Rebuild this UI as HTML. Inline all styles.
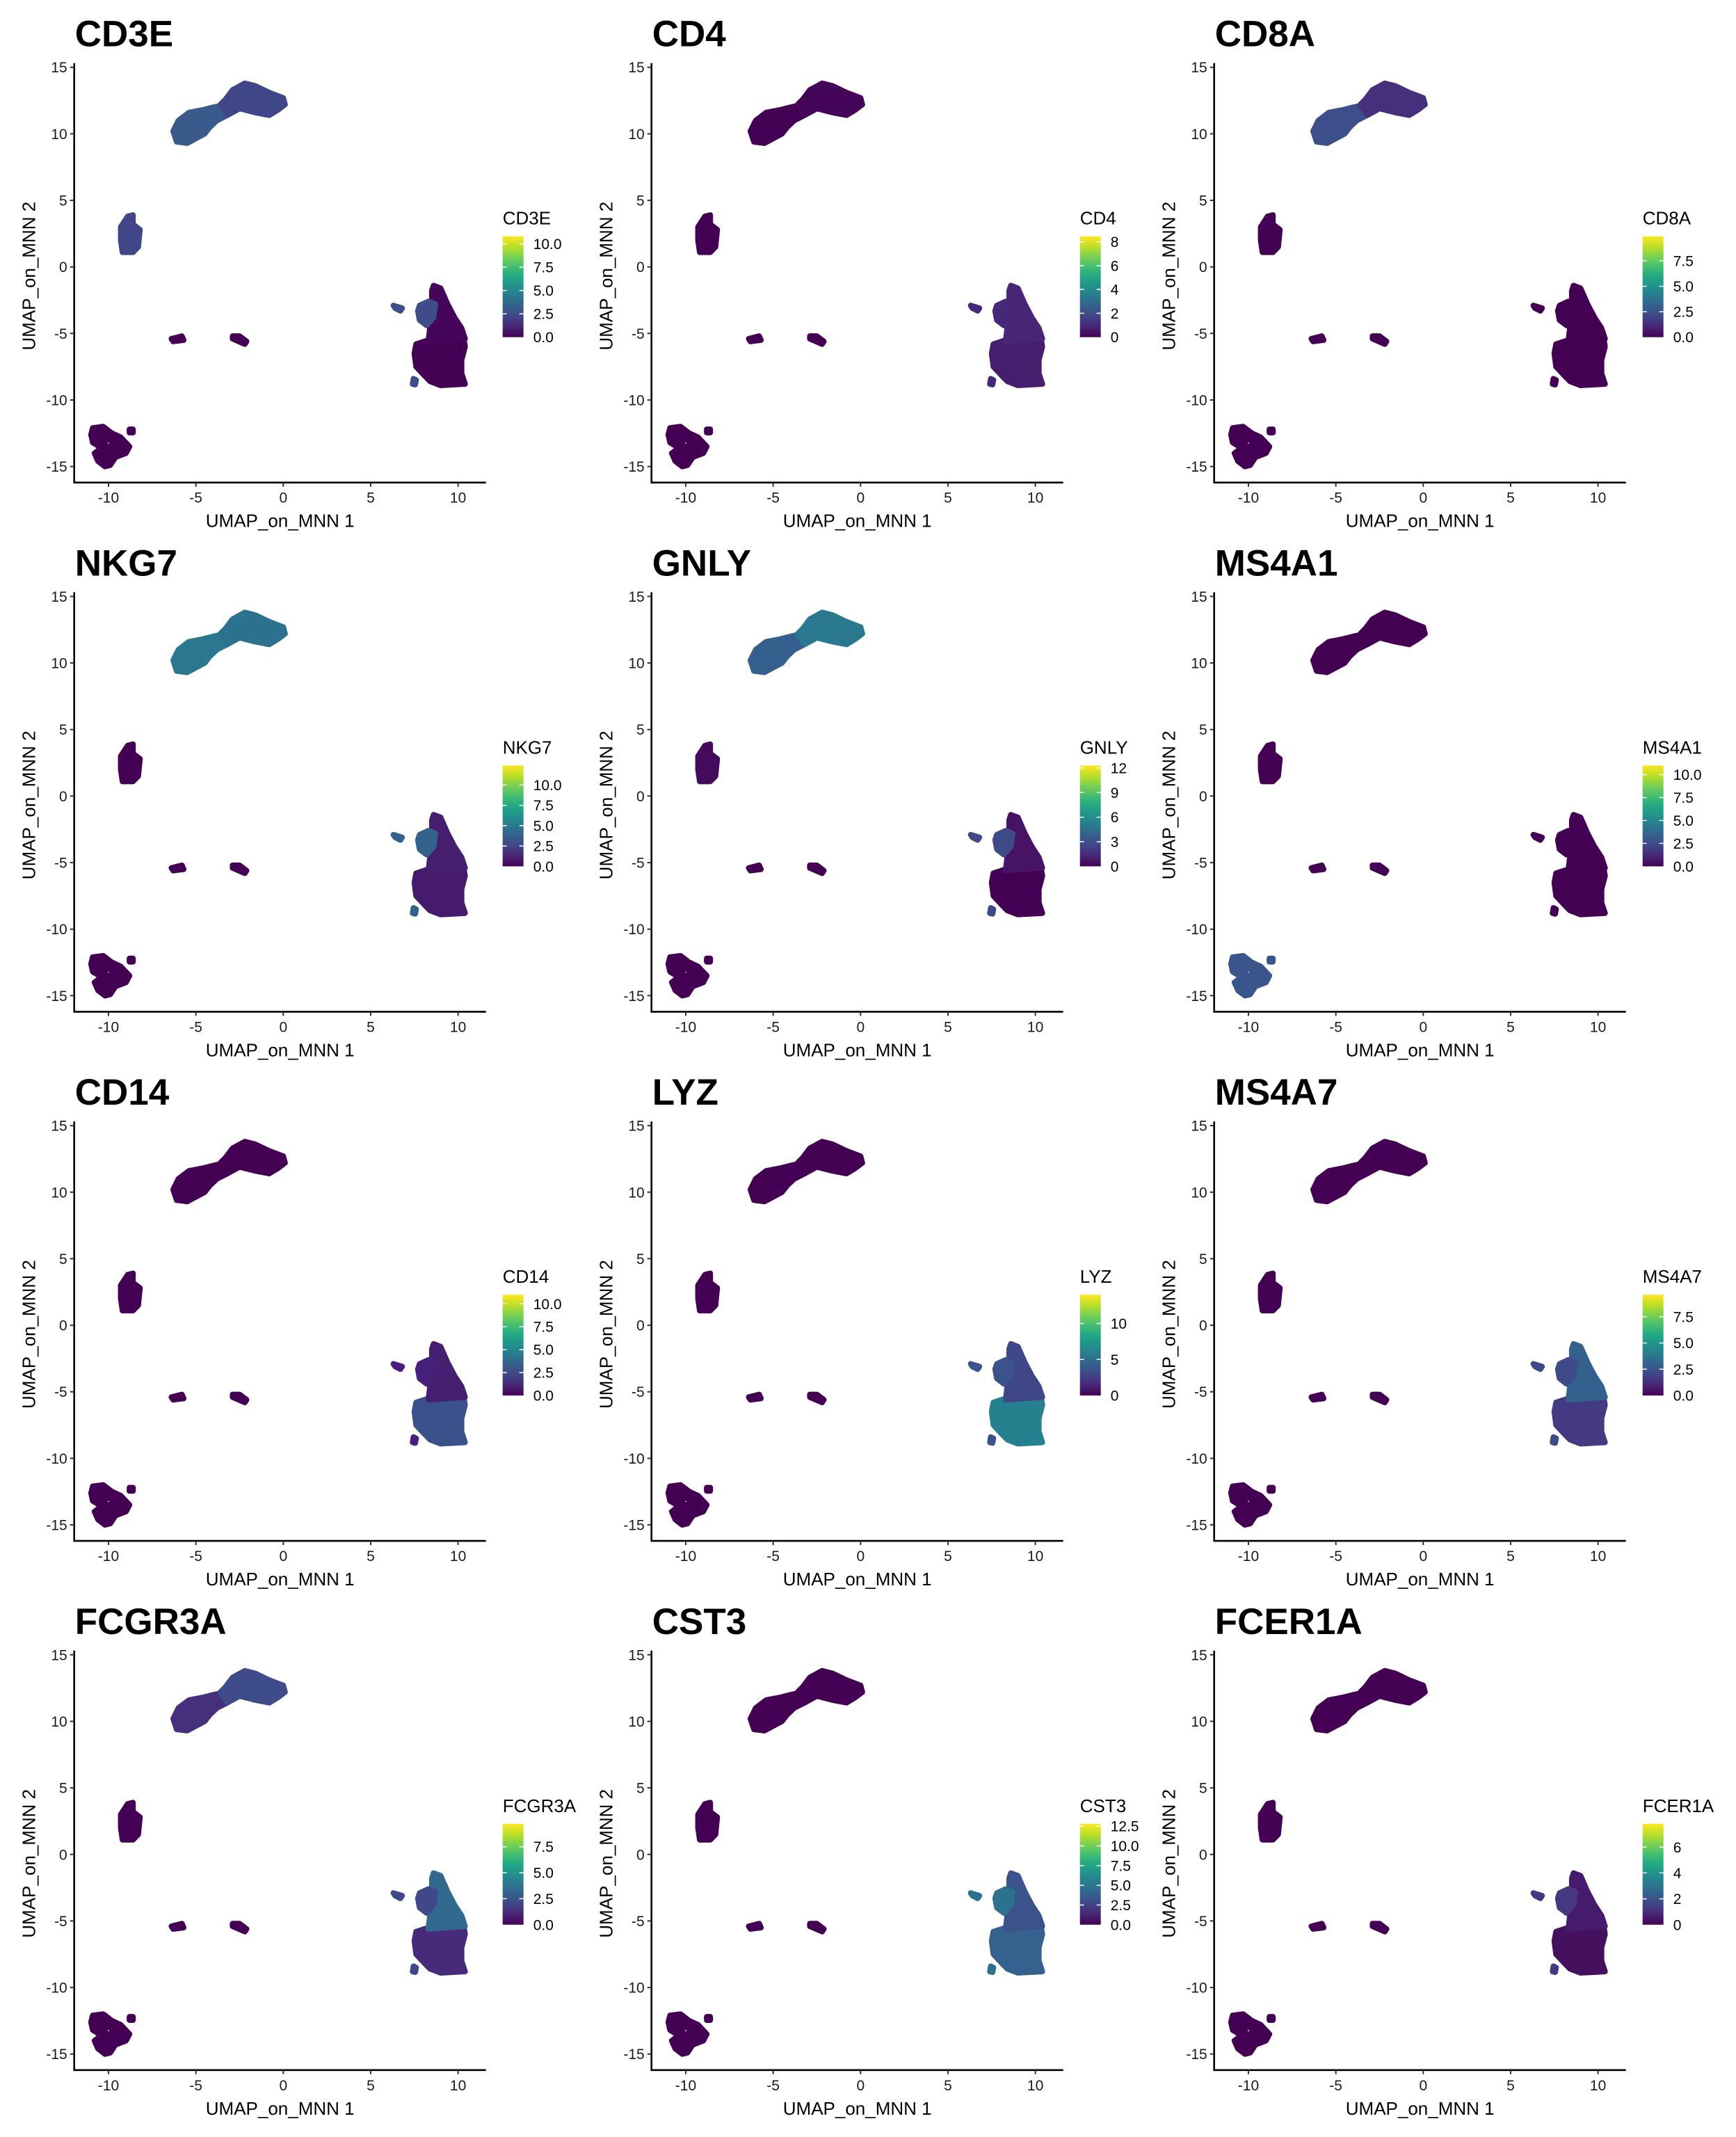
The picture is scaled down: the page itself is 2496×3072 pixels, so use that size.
<!DOCTYPE html>
<html><head><meta charset="utf-8"><style>
html,body{margin:0;padding:0;background:#fff}
svg{display:block}
text{font-family:"Liberation Sans",Arial,sans-serif;fill:#000}
.t{font-size:53px;font-weight:bold}
.k{font-size:21px;fill:#1a1a1a}
.a{font-size:26px}
.l{font-size:21px}
.lt{font-size:26px}
</style></head><body>
<svg width="2496" height="3072" viewBox="0 0 2496 3072" xmlns="http://www.w3.org/2000/svg">
<defs>
<linearGradient id="v" x1="0" y1="1" x2="0" y2="0">
<stop offset="0" stop-color="#440154"/><stop offset="0.1" stop-color="#482475"/><stop offset="0.2" stop-color="#414487"/><stop offset="0.3" stop-color="#355f8d"/><stop offset="0.4" stop-color="#2a788e"/><stop offset="0.5" stop-color="#21918c"/><stop offset="0.6" stop-color="#22a884"/><stop offset="0.7" stop-color="#44bf70"/><stop offset="0.8" stop-color="#7ad151"/><stop offset="0.9" stop-color="#bddf26"/><stop offset="1" stop-color="#fde725"/>
</linearGradient>
<g id="axl" fill="none" stroke="#000">
<path d="M0,-6V597H592" stroke-width="2.6"/>
<path d="M-6,0H0M-6,95.65H0M-6,191.3H0M-6,287H0M-6,382.6H0M-6,478.3H0M-6,573.9H0M49.3,597V603M174.95,597V603M300.6,597V603M426.25,597V603M551.9,597V603" stroke-width="2" stroke="#333"/>
</g>
<g id="bar"><rect x="616" y="243" width="30" height="145" fill="url(#v)"/></g>
<g>
<path id="c1" vector-effect="non-scaling-stroke" stroke-width="8" stroke-linejoin="round" d="M-6.1,9.4L-5.5,9.3L-4.5,10L-4.2,10.5L-3.8,11L-3.2,11.4L-3,11.9L-3.3,12.2L-4,12L-4.6,11.8L-5.4,11.6L-6,11L-6.3,10.2Z"/>
<path id="c2" vector-effect="non-scaling-stroke" stroke-width="8" stroke-linejoin="round" d="M-3.2,11.4L-2.5,11.9L-1.6,11.6L-0.8,11.4L-0.3,11.8L0.1,12.2L0,12.7L-0.8,13.1L-1.6,13.6L-2.2,13.8L-2.9,13.3L-3.3,12.6L-3.6,12.2Z"/>
<path id="c3" vector-effect="non-scaling-stroke" stroke-width="8" stroke-linejoin="round" d="M-9.2,1.1L-8.6,1.1L-8.3,1.5L-8.2,2.8L-8.6,3.2L-8.6,3.9L-8.9,3.8L-9.3,3L-9.3,2Z"/>
<path id="c4" vector-effect="non-scaling-stroke" stroke-width="8" stroke-linejoin="round" d="M-6.4,-5.4L-5.8,-5.2L-5.7,-5.5L-6.3,-5.6ZM-2.9,-5.2L-2.5,-5.2L-2.1,-5.6L-2.2,-5.8L-2.9,-5.4Z"/>
<path id="c5" vector-effect="non-scaling-stroke" stroke-width="8" stroke-linejoin="round" d="M7.6,-5.8L8.3,-5.5L10.3,-5.2L10.4,-6L10.2,-7L10.2,-8L10.4,-8.8L9,-8.9L8.4,-8.6L8.1,-8.2L7.6,-7.5L7.5,-6.5Z"/>
<path id="c6" vector-effect="non-scaling-stroke" stroke-width="8" stroke-linejoin="round" d="M8.6,-1.4L9,-1.6L9.4,-2.8L9.8,-3.8L10.2,-4.6L10.4,-5.4L8.3,-5.6L8.4,-4.5L8.6,-3.5L8.5,-2.5L8.5,-1.8Z"/>
<path id="c7" vector-effect="non-scaling-stroke" stroke-width="8" stroke-linejoin="round" d="M7.8,-2.9L8.3,-2.6L8.7,-2.8L8.6,-3.8L8.2,-4.4L7.8,-4L7.7,-3.3ZM6.3,-2.9L6.8,-3.1L6.7,-3.3L6.4,-3.1ZM7.45,-8.4L7.6,-8.5L7.55,-8.85L7.4,-8.8Z"/>
<path id="c8" vector-effect="non-scaling-stroke" stroke-width="8" stroke-linejoin="round" fill-rule="evenodd" d="M-10.9,-12.1L-10.3,-12L-9.8,-12.5L-9.3,-12.8L-8.8,-13.5L-9,-14L-9.6,-14.3L-9.9,-14.9L-10.2,-15L-10.6,-14.6L-10.8,-14L-10.4,-13.6L-10.9,-13.2L-11,-12.6ZM-10.2,-13L-9.75,-13L-9.85,-13.5L-10.2,-13.45ZM-8.8,-12.2L-8.6,-12.2L-8.6,-12.45L-8.8,-12.45Z"/>
</g>
</defs>

<!-- CD3E -->
<g transform="translate(106.7,96.7)">
<text class="t" x="1" y="-30">CD3E</text>
<g transform="translate(300.6,287) scale(25.13,-19.13)">
<use href="#c1" fill="#3b5a8c" stroke="#3b5a8c"/><use href="#c2" fill="#3f4788" stroke="#3f4788"/><use href="#c3" fill="#404688" stroke="#404688"/><use href="#c4" fill="#440154" stroke="#440154"/><use href="#c5" fill="#440154" stroke="#440154"/><use href="#c6" fill="#45065a" stroke="#45065a"/><use href="#c7" fill="#3e4c8a" stroke="#3e4c8a"/><use href="#c8" fill="#440154" stroke="#440154"/>
</g>
<use href="#axl"/>
<text class="k" text-anchor="end" x="-10" y="7.5">15</text><text class="k" text-anchor="end" x="-10" y="103.2">10</text><text class="k" text-anchor="end" x="-10" y="198.8">5</text><text class="k" text-anchor="end" x="-10" y="294.5">0</text><text class="k" text-anchor="end" x="-10" y="390.1">-5</text><text class="k" text-anchor="end" x="-10" y="485.8">-10</text><text class="k" text-anchor="end" x="-10" y="581.4">-15</text>
<text class="k" text-anchor="middle" x="49.3" y="626">-10</text><text class="k" text-anchor="middle" x="174.95" y="626">-5</text><text class="k" text-anchor="middle" x="300.6" y="626">0</text><text class="k" text-anchor="middle" x="426.25" y="626">5</text><text class="k" text-anchor="middle" x="551.9" y="626">10</text>
<text class="a" x="296" y="661" text-anchor="middle">UMAP_on_MNN 1</text><text class="a" transform="translate(-56,300) rotate(-90)" text-anchor="middle">UMAP_on_MNN 2</text>
<text class="lt" x="616" y="226">CD3E</text><use href="#bar"/>
<path d="M616,253.7h6M640,253.7h6M616,287.3h6M640,287.3h6M616,320.9h6M640,320.9h6M616,354.4h6M640,354.4h6" stroke="#fff" stroke-width="1.5"/>
<text class="l" x="660" y="261.2">10.0</text><text class="l" x="660" y="294.8">7.5</text><text class="l" x="660" y="328.4">5.0</text><text class="l" x="660" y="361.9">2.5</text><text class="l" x="660" y="395.5">0.0</text>
</g>

<!-- CD4 -->
<g transform="translate(936.7,96.7)">
<text class="t" x="1" y="-30">CD4</text>
<g transform="translate(300.6,287) scale(25.13,-19.13)">
<use href="#c1" fill="#440154" stroke="#440154"/><use href="#c2" fill="#450559" stroke="#450559"/><use href="#c3" fill="#440154" stroke="#440154"/><use href="#c4" fill="#440154" stroke="#440154"/><use href="#c5" fill="#461e6e" stroke="#461e6e"/><use href="#c6" fill="#472675" stroke="#472675"/><use href="#c7" fill="#46287a" stroke="#46287a"/><use href="#c8" fill="#440154" stroke="#440154"/>
</g>
<use href="#axl"/>
<text class="k" text-anchor="end" x="-10" y="7.5">15</text><text class="k" text-anchor="end" x="-10" y="103.2">10</text><text class="k" text-anchor="end" x="-10" y="198.8">5</text><text class="k" text-anchor="end" x="-10" y="294.5">0</text><text class="k" text-anchor="end" x="-10" y="390.1">-5</text><text class="k" text-anchor="end" x="-10" y="485.8">-10</text><text class="k" text-anchor="end" x="-10" y="581.4">-15</text>
<text class="k" text-anchor="middle" x="49.3" y="626">-10</text><text class="k" text-anchor="middle" x="174.95" y="626">-5</text><text class="k" text-anchor="middle" x="300.6" y="626">0</text><text class="k" text-anchor="middle" x="426.25" y="626">5</text><text class="k" text-anchor="middle" x="551.9" y="626">10</text>
<text class="a" x="296" y="661" text-anchor="middle">UMAP_on_MNN 1</text><text class="a" transform="translate(-56,300) rotate(-90)" text-anchor="middle">UMAP_on_MNN 2</text>
<text class="lt" x="616" y="226">CD4</text><use href="#bar"/>
<path d="M616,250.9h6M640,250.9h6M616,285.2h6M640,285.2h6M616,319.4h6M640,319.4h6M616,353.7h6M640,353.7h6" stroke="#fff" stroke-width="1.5"/>
<text class="l" x="660" y="258.4">8</text><text class="l" x="660" y="292.7">6</text><text class="l" x="660" y="326.9">4</text><text class="l" x="660" y="361.2">2</text><text class="l" x="660" y="395.5">0</text>
</g>

<!-- CD8A -->
<g transform="translate(1745.7,96.7)">
<text class="t" x="1" y="-30">CD8A</text>
<g transform="translate(300.6,287) scale(25.13,-19.13)">
<use href="#c1" fill="#3c4f8a" stroke="#3c4f8a"/><use href="#c2" fill="#46307e" stroke="#46307e"/><use href="#c3" fill="#440154" stroke="#440154"/><use href="#c4" fill="#440154" stroke="#440154"/><use href="#c5" fill="#440154" stroke="#440154"/><use href="#c6" fill="#440154" stroke="#440154"/><use href="#c7" fill="#440154" stroke="#440154"/><use href="#c8" fill="#440154" stroke="#440154"/>
</g>
<use href="#axl"/>
<text class="k" text-anchor="end" x="-10" y="7.5">15</text><text class="k" text-anchor="end" x="-10" y="103.2">10</text><text class="k" text-anchor="end" x="-10" y="198.8">5</text><text class="k" text-anchor="end" x="-10" y="294.5">0</text><text class="k" text-anchor="end" x="-10" y="390.1">-5</text><text class="k" text-anchor="end" x="-10" y="485.8">-10</text><text class="k" text-anchor="end" x="-10" y="581.4">-15</text>
<text class="k" text-anchor="middle" x="49.3" y="626">-10</text><text class="k" text-anchor="middle" x="174.95" y="626">-5</text><text class="k" text-anchor="middle" x="300.6" y="626">0</text><text class="k" text-anchor="middle" x="426.25" y="626">5</text><text class="k" text-anchor="middle" x="551.9" y="626">10</text>
<text class="a" x="296" y="661" text-anchor="middle">UMAP_on_MNN 1</text><text class="a" transform="translate(-56,300) rotate(-90)" text-anchor="middle">UMAP_on_MNN 2</text>
<text class="lt" x="616" y="226">CD8A</text><use href="#bar"/>
<path d="M616,278.2h6M640,278.2h6M616,314.8h6M640,314.8h6M616,351.4h6M640,351.4h6" stroke="#fff" stroke-width="1.5"/>
<text class="l" x="660" y="285.7">7.5</text><text class="l" x="660" y="322.3">5.0</text><text class="l" x="660" y="358.9">2.5</text><text class="l" x="660" y="395.5">0.0</text>
</g>

<!-- NKG7 -->
<g transform="translate(106.7,857.4)">
<text class="t" x="1" y="-30">NKG7</text>
<g transform="translate(300.6,287) scale(25.13,-19.13)">
<use href="#c1" fill="#2a778e" stroke="#2a778e"/><use href="#c2" fill="#2c728e" stroke="#2c728e"/><use href="#c3" fill="#440154" stroke="#440154"/><use href="#c4" fill="#440154" stroke="#440154"/><use href="#c5" fill="#461a6c" stroke="#461a6c"/><use href="#c6" fill="#46206f" stroke="#46206f"/><use href="#c7" fill="#33638d" stroke="#33638d"/><use href="#c8" fill="#440154" stroke="#440154"/>
</g>
<use href="#axl"/>
<text class="k" text-anchor="end" x="-10" y="7.5">15</text><text class="k" text-anchor="end" x="-10" y="103.2">10</text><text class="k" text-anchor="end" x="-10" y="198.8">5</text><text class="k" text-anchor="end" x="-10" y="294.5">0</text><text class="k" text-anchor="end" x="-10" y="390.1">-5</text><text class="k" text-anchor="end" x="-10" y="485.8">-10</text><text class="k" text-anchor="end" x="-10" y="581.4">-15</text>
<text class="k" text-anchor="middle" x="49.3" y="626">-10</text><text class="k" text-anchor="middle" x="174.95" y="626">-5</text><text class="k" text-anchor="middle" x="300.6" y="626">0</text><text class="k" text-anchor="middle" x="426.25" y="626">5</text><text class="k" text-anchor="middle" x="551.9" y="626">10</text>
<text class="a" x="296" y="661" text-anchor="middle">UMAP_on_MNN 1</text><text class="a" transform="translate(-56,300) rotate(-90)" text-anchor="middle">UMAP_on_MNN 2</text>
<text class="lt" x="616" y="226">NKG7</text><use href="#bar"/>
<path d="M616,271.1h6M640,271.1h6M616,300.3h6M640,300.3h6M616,329.5h6M640,329.5h6M616,358.8h6M640,358.8h6" stroke="#fff" stroke-width="1.5"/>
<text class="l" x="660" y="278.6">10.0</text><text class="l" x="660" y="307.8">7.5</text><text class="l" x="660" y="337">5.0</text><text class="l" x="660" y="366.3">2.5</text><text class="l" x="660" y="395.5">0.0</text>
</g>

<!-- GNLY -->
<g transform="translate(936.7,857.4)">
<text class="t" x="1" y="-30">GNLY</text>
<g transform="translate(300.6,287) scale(25.13,-19.13)">
<use href="#c1" fill="#35608d" stroke="#35608d"/><use href="#c2" fill="#2a788e" stroke="#2a788e"/><use href="#c3" fill="#450a5c" stroke="#450a5c"/><use href="#c4" fill="#440154" stroke="#440154"/><use href="#c5" fill="#440154" stroke="#440154"/><use href="#c6" fill="#471365" stroke="#471365"/><use href="#c7" fill="#3e4a89" stroke="#3e4a89"/><use href="#c8" fill="#440154" stroke="#440154"/>
</g>
<use href="#axl"/>
<text class="k" text-anchor="end" x="-10" y="7.5">15</text><text class="k" text-anchor="end" x="-10" y="103.2">10</text><text class="k" text-anchor="end" x="-10" y="198.8">5</text><text class="k" text-anchor="end" x="-10" y="294.5">0</text><text class="k" text-anchor="end" x="-10" y="390.1">-5</text><text class="k" text-anchor="end" x="-10" y="485.8">-10</text><text class="k" text-anchor="end" x="-10" y="581.4">-15</text>
<text class="k" text-anchor="middle" x="49.3" y="626">-10</text><text class="k" text-anchor="middle" x="174.95" y="626">-5</text><text class="k" text-anchor="middle" x="300.6" y="626">0</text><text class="k" text-anchor="middle" x="426.25" y="626">5</text><text class="k" text-anchor="middle" x="551.9" y="626">10</text>
<text class="a" x="296" y="661" text-anchor="middle">UMAP_on_MNN 1</text><text class="a" transform="translate(-56,300) rotate(-90)" text-anchor="middle">UMAP_on_MNN 2</text>
<text class="lt" x="616" y="226">GNLY</text><use href="#bar"/>
<path d="M616,246.5h6M640,246.5h6M616,281.9h6M640,281.9h6M616,317.3h6M640,317.3h6M616,352.6h6M640,352.6h6" stroke="#fff" stroke-width="1.5"/>
<text class="l" x="660" y="254">12</text><text class="l" x="660" y="289.4">9</text><text class="l" x="660" y="324.8">6</text><text class="l" x="660" y="360.1">3</text><text class="l" x="660" y="395.5">0</text>
</g>

<!-- MS4A1 -->
<g transform="translate(1745.7,857.4)">
<text class="t" x="1" y="-30">MS4A1</text>
<g transform="translate(300.6,287) scale(25.13,-19.13)">
<use href="#c1" fill="#440154" stroke="#440154"/><use href="#c2" fill="#440154" stroke="#440154"/><use href="#c3" fill="#440154" stroke="#440154"/><use href="#c4" fill="#440154" stroke="#440154"/><use href="#c5" fill="#440154" stroke="#440154"/><use href="#c6" fill="#440154" stroke="#440154"/><use href="#c7" fill="#440154" stroke="#440154"/><use href="#c8" fill="#3a548c" stroke="#3a548c"/>
</g>
<use href="#axl"/>
<text class="k" text-anchor="end" x="-10" y="7.5">15</text><text class="k" text-anchor="end" x="-10" y="103.2">10</text><text class="k" text-anchor="end" x="-10" y="198.8">5</text><text class="k" text-anchor="end" x="-10" y="294.5">0</text><text class="k" text-anchor="end" x="-10" y="390.1">-5</text><text class="k" text-anchor="end" x="-10" y="485.8">-10</text><text class="k" text-anchor="end" x="-10" y="581.4">-15</text>
<text class="k" text-anchor="middle" x="49.3" y="626">-10</text><text class="k" text-anchor="middle" x="174.95" y="626">-5</text><text class="k" text-anchor="middle" x="300.6" y="626">0</text><text class="k" text-anchor="middle" x="426.25" y="626">5</text><text class="k" text-anchor="middle" x="551.9" y="626">10</text>
<text class="a" x="296" y="661" text-anchor="middle">UMAP_on_MNN 1</text><text class="a" transform="translate(-56,300) rotate(-90)" text-anchor="middle">UMAP_on_MNN 2</text>
<text class="lt" x="616" y="226">MS4A1</text><use href="#bar"/>
<path d="M616,256.2h6M640,256.2h6M616,289.1h6M640,289.1h6M616,322.1h6M640,322.1h6M616,355h6M640,355h6" stroke="#fff" stroke-width="1.5"/>
<text class="l" x="660" y="263.7">10.0</text><text class="l" x="660" y="296.6">7.5</text><text class="l" x="660" y="329.6">5.0</text><text class="l" x="660" y="362.5">2.5</text><text class="l" x="660" y="395.5">0.0</text>
</g>

<!-- CD14 -->
<g transform="translate(106.7,1618.1)">
<text class="t" x="1" y="-30">CD14</text>
<g transform="translate(300.6,287) scale(25.13,-19.13)">
<use href="#c1" fill="#440154" stroke="#440154"/><use href="#c2" fill="#440154" stroke="#440154"/><use href="#c3" fill="#440154" stroke="#440154"/><use href="#c4" fill="#440154" stroke="#440154"/><use href="#c5" fill="#3b518b" stroke="#3b518b"/><use href="#c6" fill="#462070" stroke="#462070"/><use href="#c7" fill="#46207a" stroke="#46207a"/><use href="#c8" fill="#440154" stroke="#440154"/>
</g>
<use href="#axl"/>
<text class="k" text-anchor="end" x="-10" y="7.5">15</text><text class="k" text-anchor="end" x="-10" y="103.2">10</text><text class="k" text-anchor="end" x="-10" y="198.8">5</text><text class="k" text-anchor="end" x="-10" y="294.5">0</text><text class="k" text-anchor="end" x="-10" y="390.1">-5</text><text class="k" text-anchor="end" x="-10" y="485.8">-10</text><text class="k" text-anchor="end" x="-10" y="581.4">-15</text>
<text class="k" text-anchor="middle" x="49.3" y="626">-10</text><text class="k" text-anchor="middle" x="174.95" y="626">-5</text><text class="k" text-anchor="middle" x="300.6" y="626">0</text><text class="k" text-anchor="middle" x="426.25" y="626">5</text><text class="k" text-anchor="middle" x="551.9" y="626">10</text>
<text class="a" x="296" y="661" text-anchor="middle">UMAP_on_MNN 1</text><text class="a" transform="translate(-56,300) rotate(-90)" text-anchor="middle">UMAP_on_MNN 2</text>
<text class="lt" x="616" y="226">CD14</text><use href="#bar"/>
<path d="M616,256.2h6M640,256.2h6M616,289.1h6M640,289.1h6M616,322.1h6M640,322.1h6M616,355h6M640,355h6" stroke="#fff" stroke-width="1.5"/>
<text class="l" x="660" y="263.7">10.0</text><text class="l" x="660" y="296.6">7.5</text><text class="l" x="660" y="329.6">5.0</text><text class="l" x="660" y="362.5">2.5</text><text class="l" x="660" y="395.5">0.0</text>
</g>

<!-- LYZ -->
<g transform="translate(936.7,1618.1)">
<text class="t" x="1" y="-30">LYZ</text>
<g transform="translate(300.6,287) scale(25.13,-19.13)">
<use href="#c1" fill="#440154" stroke="#440154"/><use href="#c2" fill="#440154" stroke="#440154"/><use href="#c3" fill="#440154" stroke="#440154"/><use href="#c4" fill="#440154" stroke="#440154"/><use href="#c5" fill="#26818e" stroke="#26818e"/><use href="#c6" fill="#3f4788" stroke="#3f4788"/><use href="#c7" fill="#3b528b" stroke="#3b528b"/><use href="#c8" fill="#440154" stroke="#440154"/>
</g>
<use href="#axl"/>
<text class="k" text-anchor="end" x="-10" y="7.5">15</text><text class="k" text-anchor="end" x="-10" y="103.2">10</text><text class="k" text-anchor="end" x="-10" y="198.8">5</text><text class="k" text-anchor="end" x="-10" y="294.5">0</text><text class="k" text-anchor="end" x="-10" y="390.1">-5</text><text class="k" text-anchor="end" x="-10" y="485.8">-10</text><text class="k" text-anchor="end" x="-10" y="581.4">-15</text>
<text class="k" text-anchor="middle" x="49.3" y="626">-10</text><text class="k" text-anchor="middle" x="174.95" y="626">-5</text><text class="k" text-anchor="middle" x="300.6" y="626">0</text><text class="k" text-anchor="middle" x="426.25" y="626">5</text><text class="k" text-anchor="middle" x="551.9" y="626">10</text>
<text class="a" x="296" y="661" text-anchor="middle">UMAP_on_MNN 1</text><text class="a" transform="translate(-56,300) rotate(-90)" text-anchor="middle">UMAP_on_MNN 2</text>
<text class="lt" x="616" y="226">LYZ</text><use href="#bar"/>
<path d="M616,284.4h6M640,284.4h6M616,336.2h6M640,336.2h6" stroke="#fff" stroke-width="1.5"/>
<text class="l" x="660" y="291.9">10</text><text class="l" x="660" y="343.7">5</text><text class="l" x="660" y="395.5">0</text>
</g>

<!-- MS4A7 -->
<g transform="translate(1745.7,1618.1)">
<text class="t" x="1" y="-30">MS4A7</text>
<g transform="translate(300.6,287) scale(25.13,-19.13)">
<use href="#c1" fill="#440154" stroke="#440154"/><use href="#c2" fill="#440154" stroke="#440154"/><use href="#c3" fill="#440154" stroke="#440154"/><use href="#c4" fill="#440154" stroke="#440154"/><use href="#c5" fill="#443a83" stroke="#443a83"/><use href="#c6" fill="#34608d" stroke="#34608d"/><use href="#c7" fill="#3e4a89" stroke="#3e4a89"/><use href="#c8" fill="#440154" stroke="#440154"/>
</g>
<use href="#axl"/>
<text class="k" text-anchor="end" x="-10" y="7.5">15</text><text class="k" text-anchor="end" x="-10" y="103.2">10</text><text class="k" text-anchor="end" x="-10" y="198.8">5</text><text class="k" text-anchor="end" x="-10" y="294.5">0</text><text class="k" text-anchor="end" x="-10" y="390.1">-5</text><text class="k" text-anchor="end" x="-10" y="485.8">-10</text><text class="k" text-anchor="end" x="-10" y="581.4">-15</text>
<text class="k" text-anchor="middle" x="49.3" y="626">-10</text><text class="k" text-anchor="middle" x="174.95" y="626">-5</text><text class="k" text-anchor="middle" x="300.6" y="626">0</text><text class="k" text-anchor="middle" x="426.25" y="626">5</text><text class="k" text-anchor="middle" x="551.9" y="626">10</text>
<text class="a" x="296" y="661" text-anchor="middle">UMAP_on_MNN 1</text><text class="a" transform="translate(-56,300) rotate(-90)" text-anchor="middle">UMAP_on_MNN 2</text>
<text class="lt" x="616" y="226">MS4A7</text><use href="#bar"/>
<path d="M616,274.7h6M640,274.7h6M616,312.5h6M640,312.5h6M616,350.2h6M640,350.2h6" stroke="#fff" stroke-width="1.5"/>
<text class="l" x="660" y="282.2">7.5</text><text class="l" x="660" y="320">5.0</text><text class="l" x="660" y="357.7">2.5</text><text class="l" x="660" y="395.5">0.0</text>
</g>

<!-- FCGR3A -->
<g transform="translate(106.7,2378.8)">
<text class="t" x="1" y="-30">FCGR3A</text>
<g transform="translate(300.6,287) scale(25.13,-19.13)">
<use href="#c1" fill="#46307e" stroke="#46307e"/><use href="#c2" fill="#3e4c8a" stroke="#3e4c8a"/><use href="#c3" fill="#440154" stroke="#440154"/><use href="#c4" fill="#440154" stroke="#440154"/><use href="#c5" fill="#472a79" stroke="#472a79"/><use href="#c6" fill="#31688e" stroke="#31688e"/><use href="#c7" fill="#3f4889" stroke="#3f4889"/><use href="#c8" fill="#440154" stroke="#440154"/>
</g>
<use href="#axl"/>
<text class="k" text-anchor="end" x="-10" y="7.5">15</text><text class="k" text-anchor="end" x="-10" y="103.2">10</text><text class="k" text-anchor="end" x="-10" y="198.8">5</text><text class="k" text-anchor="end" x="-10" y="294.5">0</text><text class="k" text-anchor="end" x="-10" y="390.1">-5</text><text class="k" text-anchor="end" x="-10" y="485.8">-10</text><text class="k" text-anchor="end" x="-10" y="581.4">-15</text>
<text class="k" text-anchor="middle" x="49.3" y="626">-10</text><text class="k" text-anchor="middle" x="174.95" y="626">-5</text><text class="k" text-anchor="middle" x="300.6" y="626">0</text><text class="k" text-anchor="middle" x="426.25" y="626">5</text><text class="k" text-anchor="middle" x="551.9" y="626">10</text>
<text class="a" x="296" y="661" text-anchor="middle">UMAP_on_MNN 1</text><text class="a" transform="translate(-56,300) rotate(-90)" text-anchor="middle">UMAP_on_MNN 2</text>
<text class="lt" x="616" y="226">FCGR3A</text><use href="#bar"/>
<path d="M616,275.9h6M640,275.9h6M616,313.3h6M640,313.3h6M616,350.6h6M640,350.6h6" stroke="#fff" stroke-width="1.5"/>
<text class="l" x="660" y="283.4">7.5</text><text class="l" x="660" y="320.8">5.0</text><text class="l" x="660" y="358.1">2.5</text><text class="l" x="660" y="395.5">0.0</text>
</g>

<!-- CST3 -->
<g transform="translate(936.7,2378.8)">
<text class="t" x="1" y="-30">CST3</text>
<g transform="translate(300.6,287) scale(25.13,-19.13)">
<use href="#c1" fill="#440154" stroke="#440154"/><use href="#c2" fill="#440154" stroke="#440154"/><use href="#c3" fill="#440154" stroke="#440154"/><use href="#c4" fill="#440154" stroke="#440154"/><use href="#c5" fill="#34618d" stroke="#34618d"/><use href="#c6" fill="#3b528b" stroke="#3b528b"/><use href="#c7" fill="#2c728e" stroke="#2c728e"/><use href="#c8" fill="#440154" stroke="#440154"/>
</g>
<use href="#axl"/>
<text class="k" text-anchor="end" x="-10" y="7.5">15</text><text class="k" text-anchor="end" x="-10" y="103.2">10</text><text class="k" text-anchor="end" x="-10" y="198.8">5</text><text class="k" text-anchor="end" x="-10" y="294.5">0</text><text class="k" text-anchor="end" x="-10" y="390.1">-5</text><text class="k" text-anchor="end" x="-10" y="485.8">-10</text><text class="k" text-anchor="end" x="-10" y="581.4">-15</text>
<text class="k" text-anchor="middle" x="49.3" y="626">-10</text><text class="k" text-anchor="middle" x="174.95" y="626">-5</text><text class="k" text-anchor="middle" x="300.6" y="626">0</text><text class="k" text-anchor="middle" x="426.25" y="626">5</text><text class="k" text-anchor="middle" x="551.9" y="626">10</text>
<text class="a" x="296" y="661" text-anchor="middle">UMAP_on_MNN 1</text><text class="a" transform="translate(-56,300) rotate(-90)" text-anchor="middle">UMAP_on_MNN 2</text>
<text class="lt" x="616" y="226">CST3</text><use href="#bar"/>
<path d="M616,246.4h6M640,246.4h6M616,274.7h6M640,274.7h6M616,303h6M640,303h6M616,331.4h6M640,331.4h6M616,359.7h6M640,359.7h6" stroke="#fff" stroke-width="1.5"/>
<text class="l" x="660" y="253.9">12.5</text><text class="l" x="660" y="282.2">10.0</text><text class="l" x="660" y="310.5">7.5</text><text class="l" x="660" y="338.9">5.0</text><text class="l" x="660" y="367.2">2.5</text><text class="l" x="660" y="395.5">0.0</text>
</g>

<!-- FCER1A -->
<g transform="translate(1745.7,2378.8)">
<text class="t" x="1" y="-30">FCER1A</text>
<g transform="translate(300.6,287) scale(25.13,-19.13)">
<use href="#c1" fill="#440154" stroke="#440154"/><use href="#c2" fill="#440154" stroke="#440154"/><use href="#c3" fill="#440154" stroke="#440154"/><use href="#c4" fill="#440154" stroke="#440154"/><use href="#c5" fill="#45115f" stroke="#45115f"/><use href="#c6" fill="#461a6c" stroke="#461a6c"/><use href="#c7" fill="#453781" stroke="#453781"/><use href="#c8" fill="#440154" stroke="#440154"/>
</g>
<use href="#axl"/>
<text class="k" text-anchor="end" x="-10" y="7.5">15</text><text class="k" text-anchor="end" x="-10" y="103.2">10</text><text class="k" text-anchor="end" x="-10" y="198.8">5</text><text class="k" text-anchor="end" x="-10" y="294.5">0</text><text class="k" text-anchor="end" x="-10" y="390.1">-5</text><text class="k" text-anchor="end" x="-10" y="485.8">-10</text><text class="k" text-anchor="end" x="-10" y="581.4">-15</text>
<text class="k" text-anchor="middle" x="49.3" y="626">-10</text><text class="k" text-anchor="middle" x="174.95" y="626">-5</text><text class="k" text-anchor="middle" x="300.6" y="626">0</text><text class="k" text-anchor="middle" x="426.25" y="626">5</text><text class="k" text-anchor="middle" x="551.9" y="626">10</text>
<text class="a" x="296" y="661" text-anchor="middle">UMAP_on_MNN 1</text><text class="a" transform="translate(-56,300) rotate(-90)" text-anchor="middle">UMAP_on_MNN 2</text>
<text class="lt" x="616" y="226">FCER1A</text><use href="#bar"/>
<path d="M616,276.5h6M640,276.5h6M616,313.6h6M640,313.6h6M616,350.8h6M640,350.8h6" stroke="#fff" stroke-width="1.5"/>
<text class="l" x="660" y="284">6</text><text class="l" x="660" y="321.1">4</text><text class="l" x="660" y="358.3">2</text><text class="l" x="660" y="395.5">0</text>
</g>
</svg>
</body></html>
